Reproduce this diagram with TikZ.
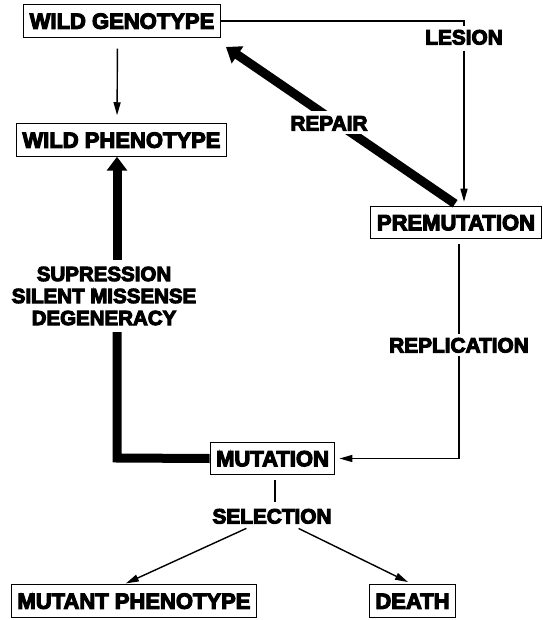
\documentclass[tikz,border=0pt]{standalone}
\usepackage{fontspec}
\newfontfamily\heavy{Liberation Sans Bold}[FakeBold=5]
\usetikzlibrary{arrows.meta}

\tikzset{
  box/.style={draw, line width=1pt, font=\heavy\fontsize{22}{22}\selectfont,
    inner xsep=6pt, inner ysep=8.5pt, text height=15.5pt, text depth=0pt},
  tag/.style={font=\heavy\fontsize{20.8}{22}\selectfont, inner sep=3pt,
    text height=15pt, text depth=0pt},
  stack/.style={font=\heavy\fontsize{20.5}{22}\selectfont, inner sep=3pt, align=center},
  thinline/.style={line width=1.4pt},
  thinarrow/.style={line width=1.4pt, -{Triangle[length=13pt,width=7pt]}},
  heavyline/.style={line width=9pt, line join=miter},
  heavyarrow/.style={line width=9pt, -{Triangle[length=14pt,width=20pt]}},
}

\begin{document}
\begin{tikzpicture}[x=1pt, y=1pt]
  \useasboundingbox (0,0) rectangle (542,-620);

  % boxed states
  \node[box] (wg) at (122,-21)    {WILD GENOTYPE};
  \node[box] (wp) at (121.5,-140) {WILD PHENOTYPE};
  \node[box] (pm) at (456,-222.5) {PREMUTATION};
  \node[box] (mu) at (272.5,-458.5) {MUTATION};
  \node[box] (mp) at (134,-601)   {MUTANT PHENOTYPE};
  \node[box] (de) at (412.5,-601) {DEATH};

  % process labels
  \node[tag] (les) at (464,-37)  {LESION};
  \node[tag] (rep) at (459,-345) {REPLICATION};
  \node[tag] (sel) at (272,-516) {SELECTION};
  \node[stack] (sup) at (104,-296)
    {SUPRESSION\\SILENT MISSENSE\\DEGENERACY};

  % named bends and ends of the heavy suppression path
  \coordinate (bendL)  at (117,-458);
  \coordinate (supTop) at (117,-260);
  \coordinate (supBot) at (117,-332);
  \coordinate (repTip) at (226,-47);

  % wild genotype gives wild phenotype
  \draw[thinarrow, shorten <=11pt, shorten >=8pt]
    ([xshift=-4.5pt]wg.south) -- ([xshift=-4.5pt]wp.north);

  % lesion
  \draw[thinline] (wg.east) -| (les.north);
  \draw[thinarrow, shorten <=3pt, shorten >=4pt] (les.south) -- (les.south |- pm.north);

  % repair (heavy), broken by its label
  \draw[heavyarrow] ([xshift=-1pt,yshift=2pt]pm.north) -- (repTip);
  \node[tag, fill=white, inner sep=4pt] at (329,-123) {REPAIR};

  % replication
  \draw[thinline, shorten <=5pt] (pm.south -| rep.north) -- (rep.north);
  \draw[thinarrow, shorten >=4pt] (rep.south) |- (mu.east);

  % suppression (heavy)
  \draw[heavyline] (mu.west) -- (bendL) -- (supBot);
  \draw[heavyarrow] (supTop) -- (supTop |- wp.south);

  % selection
  \draw[thinline, shorten <=5pt, shorten >=3pt] ([xshift=2.5pt]mu.south) -- ([xshift=2.5pt]mu.south |- sel.north);
  \draw[thinarrow, shorten <=4pt, shorten >=2pt] ([xshift=-22pt]sel.south) -- ([xshift=-10pt]mp.north);
  \draw[thinarrow, shorten <=4pt, shorten >=5pt] ([xshift=23pt]sel.south) -- (de.north);
\end{tikzpicture}
\end{document}
